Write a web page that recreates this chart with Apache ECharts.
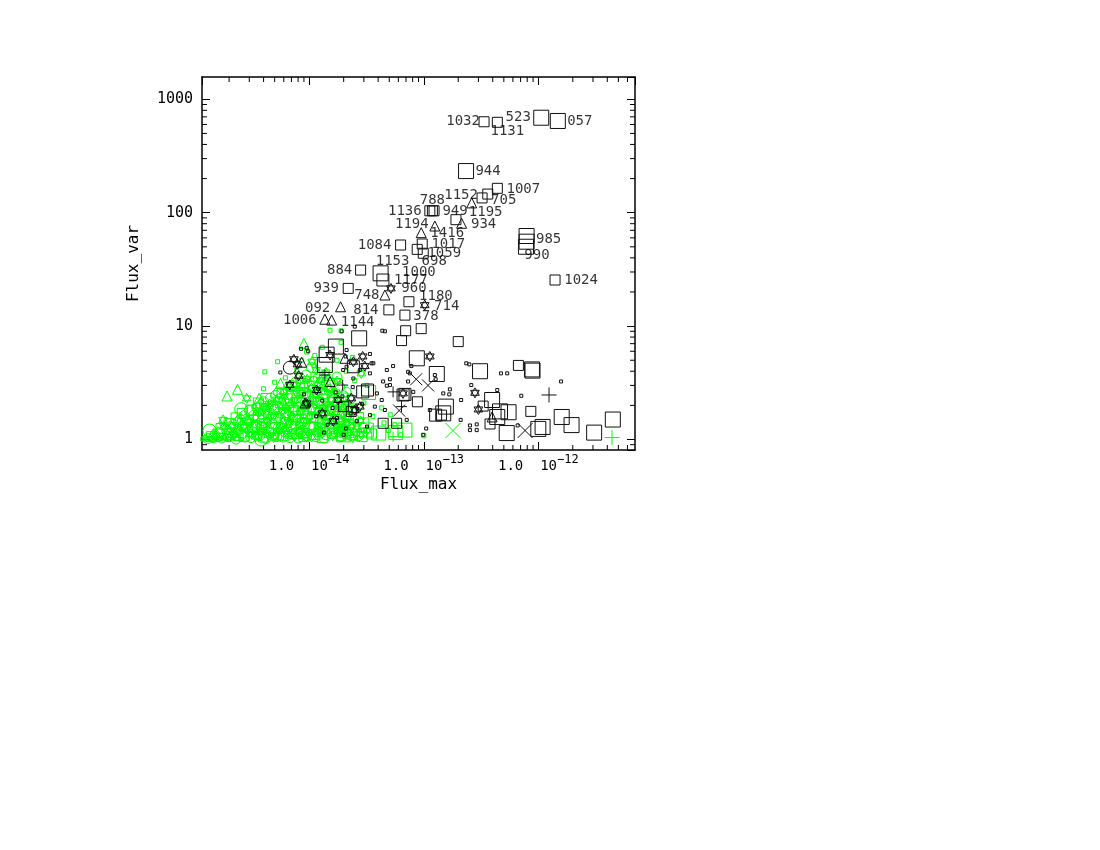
<!DOCTYPE html>
<html>
<head>
<meta charset="utf-8">
<title>Flux_var vs Flux_max</title>
<script src="https://cdn.jsdelivr.net/npm/echarts@6/dist/echarts.min.js"></script>
<style>
  html, body { margin: 0; background: #fff; }
  #chart { width: 1100px; height: 850px; }
</style>
</head>
<body>
<div id="chart"></div>
<script>
// axis ranges (log scales)
const xMin = 1.16e-15, xMax = 6.98e-12;
const yMin = 0.808, yMax = 1573;

// minor ticks (2..9 in every decade)
const xMinor = [2e-15, 3e-15, 4e-15, 5e-15, 6e-15, 7e-15, 8e-15, 9e-15,
  2e-14, 3e-14, 4e-14, 5e-14, 6e-14, 7e-14, 8e-14, 9e-14,
  2e-13, 3e-13, 4e-13, 5e-13, 6e-13, 7e-13, 8e-13, 9e-13,
  2e-12, 3e-12, 4e-12, 5e-12, 6e-12];
const yMinor = [0.9, 2, 3, 4, 5, 6, 7, 8, 9, 20, 30, 40, 50, 60, 70, 80, 90,
  200, 300, 400, 500, 600, 700, 800, 900];

// ---- black sources ----
const blackSquaresLarge = [
  [1.06e-12, 688], [1.48e-12, 644], [2.34e-13, 233], [4.2e-14, 29.2],
  [7.9e-13, 62.3], [7.9e-13, 55.5], [7.8e-13, 50.1],
  [2.73e-14, 7.8], [1.71e-14, 6.6], [1.42e-14, 5.6], [1.37e-14, 4.54],
  [8.7e-14, 5.2], [1.30e-13, 3.78], [3.10e-13, 4.0], [8.8e-13, 4.15], [8.9e-13, 4.05],
  [3.95e-13, 2.23], [4.63e-13, 1.77], [5.5e-13, 1.74], [4.38e-13, 1.58], [5.3e-13, 1.14],
  [1.09e-12, 1.29], [1.0e-12, 1.24], [1.6e-12, 1.58], [1.95e-12, 1.34], [3.07e-12, 1.15],
  [4.47e-12, 1.5], [1.56e-13, 1.95], [1.48e-13, 1.7]
];
const blackSquaresMid = [
  [4.4e-14, 25.5], [6.85e-14, 2.5], [3.23e-14, 2.73], [2.43e-14, 4.38], [2.93e-14, 2.63],
  [6.6e-14, 2.47], [1.27e-13, 1.64]
];
const blackSquaresSmall = [
  [3.36e-13, 634], [4.39e-13, 627], [4.39e-13, 164], [3.62e-13, 146], [3.23e-13, 135],
  [1.13e-13, 104], [1.19e-13, 104], [1.23e-13, 104], [1.91e-13, 86.8],
  [6.28e-14, 51.9], [9.7e-14, 53.0], [8.77e-14, 47.5], [9.9e-14, 43.9],
  [2.81e-14, 31.2], [2.19e-14, 21.5], [4.96e-14, 13.9], [7.42e-14, 16.4], [6.85e-14, 12.5],
  [1.40e-12, 25.5], [6.95e-14, 9.1], [9.5e-14, 9.5], [6.4e-14, 7.45], [8.8e-14, 2.15],
  [4.42e-14, 1.39], [5.8e-14, 1.39], [2.0e-13, 7.3], [6.7e-13, 4.5], [1.43e-13, 1.64],
  [3.79e-13, 1.37], [3.3e-13, 1.97], [8.6e-13, 1.77], [2.33e-14, 1.77], [2.0e-14, 1.95]
];
const blackTriangles = [
  [2.62e-13, 122], [2.14e-13, 80.7], [1.25e-13, 76.3], [9.5e-14, 66.7], [4.58e-14, 18.8],
  [1.88e-14, 14.8], [1.37e-14, 11.5], [1.57e-14, 11.3], [8.6e-15, 4.8], [2.05e-14, 5.2],
  [1.52e-14, 3.25], [3.95e-13, 1.58], [9.2e-15, 2.1]
];
const blackStars = [
  [5.17e-14, 21.5], [1.02e-13, 15.3], [1.13e-13, 5.4], [7.35e-15, 5.1], [7.9e-15, 4.6],
  [8.1e-15, 3.65], [6.78e-15, 3.02], [9.5e-15, 2.08], [1.16e-14, 2.73], [1.52e-14, 5.56],
  [2.43e-14, 4.85], [2.93e-14, 5.4], [3.06e-14, 4.44], [1.79e-14, 2.23], [2.5e-14, 1.82],
  [2.77e-14, 1.95], [2.33e-14, 2.31], [6.6e-14, 2.55], [2.8e-13, 2.58], [3.0e-13, 1.84],
  [1.3e-14, 1.7], [1.62e-14, 1.45]
];
const blackCircles = [[6.78e-15, 4.3]];
const blackPluses = [[1.37e-14, 3.7], [1.96e-14, 3.02], [5.4e-14, 2.63], [6.4e-14, 1.95]];
const blackPlusesLarge = [[1.24e-12, 2.47]];
const blackCrosses = [[8.6e-14, 3.4], [1.09e-13, 3.0], [6.1e-14, 1.8]];
const blackCrossesLarge = [[7.66e-13, 1.2]];
const blackDots = [
  [2.5e-14, 9.9], [4.58e-14, 9.0], [4.76e-14, 4.1], [4.42e-14, 3.25], [5.07e-14, 3.02],
  [7.57e-14, 3.83], [7.3e-14, 3.25], [3.39e-14, 3.83], [3.63e-14, 4.7], [1.98e-14, 4.1],
  [2.43e-14, 3.45], [1.05e-13, 1.25], [9.9e-14, 1.10], [4.58e-14, 1.82], [7.1e-14, 1.49],
  [8.1e-14, 2.63], [1.13e-13, 1.82], [2.5e-13, 4.6], [4.72e-13, 3.83], [5.35e-13, 3.83],
  [1.58e-12, 3.25], [2.6e-13, 3.02], [1.69e-13, 2.77], [1.48e-13, 2.55], [1.67e-13, 2.5],
  [2.12e-13, 2.23], [4.38e-13, 2.73], [7.1e-13, 2.43], [2.1e-13, 1.49], [2.9e-13, 1.36],
  [2.53e-13, 1.33], [2.9e-13, 1.21], [2.53e-13, 1.21], [6.6e-13, 1.33], [4.35e-14, 9.1],
  [1.25e-13, 3.7], [1.27e-13, 3.4], [7.3e-14, 3.95], [7.8e-14, 4.44], [4.76e-14, 2.98],
  [3.9e-14, 2.55], [4.3e-14, 2.23], [3.74e-14, 1.95], [3.39e-14, 1.64], [2.12e-14, 6.15],
  [2.08e-14, 5.4], [3.5e-14, 4.7], [3.39e-14, 5.68], [9.5e-15, 6.4], [1.92e-14, 9.0],
  [2.35e-13, 4.7], [5.4e-14, 4.44], [5.07e-14, 3.4], [2.12e-14, 4.38], [2.77e-14, 4.1],
  [1.0e-14, 2.0], [1.15e-14, 1.6], [1.3e-14, 2.2], [1.45e-14, 1.35], [1.6e-14, 1.9],
  [1.75e-14, 1.55], [1.95e-14, 2.4], [2.1e-14, 1.25], [2.3e-14, 1.7], [2.6e-14, 1.45],
  [2.9e-14, 2.05], [3.2e-14, 1.3], [9.0e-15, 2.5], [1.2e-14, 2.8], [1.7e-14, 2.6],
  [2.0e-14, 1.1], [2.4e-14, 2.9], [1.35e-14, 1.15], [8.5e-15, 6.3], [5.6e-15, 3.9], [9.8e-15, 6.0]
];

// ---- green sources ----
const greenCircles = [
  [1.30e-15, 1.02], [1.72e-15, 1.03], [2.30e-15, 1.01], [3.10e-15, 1.04], [4.20e-15, 1.02],
  [5.90e-15, 1.05], [8.00e-15, 1.03], [1.15e-14, 1.06],
  [1.50e-15, 1.10], [2.60e-15, 1.12], [3.60e-15, 1.09], [5.00e-15, 1.13], [7.10e-15, 1.11],
  [9.60e-15, 1.14], [1.40e-14, 1.10], [2.10e-14, 1.12],
  [1.90e-15, 1.22], [2.90e-15, 1.25], [4.40e-15, 1.20], [6.40e-15, 1.24], [8.80e-15, 1.21],
  [1.25e-14, 1.26], [1.80e-14, 1.23], [2.60e-14, 1.19],
  [2.20e-15, 1.36], [3.30e-15, 1.33], [4.80e-15, 1.38], [6.90e-15, 1.35], [1.02e-14, 1.32],
  [1.50e-14, 1.37], [2.30e-14, 1.34],
  [2.50e-15, 1.50], [3.90e-15, 1.47], [5.60e-15, 1.53], [7.80e-15, 1.49], [1.10e-14, 1.55],
  [1.65e-14, 1.48], [2.45e-14, 1.52],
  [4.60e-15, 1.70], [6.20e-15, 1.66], [9.00e-15, 1.72], [1.30e-14, 1.68], [1.95e-14, 1.74],
  [3.50e-15, 1.90], [5.30e-15, 1.95], [7.40e-15, 1.88], [1.05e-14, 1.93], [1.55e-14, 1.87],
  [2.20e-14, 1.96],
  [4.00e-15, 2.15], [6.00e-15, 2.20], [8.50e-15, 2.12], [1.20e-14, 2.18], [1.75e-14, 2.10],
  [5.10e-15, 2.45], [7.00e-15, 2.50], [9.80e-15, 2.40], [1.40e-14, 2.52], [2.00e-14, 2.42],
  [6.50e-15, 2.80], [9.00e-15, 2.85], [1.30e-14, 2.75], [1.85e-14, 2.90],
  [7.60e-15, 3.20], [1.10e-14, 3.25], [1.60e-14, 3.15],
  [9.40e-15, 3.70], [1.35e-14, 3.65], [1.05e-14, 4.30],
  [1.45e-15, 1.04], [1.95e-15, 1.07], [2.75e-15, 1.05], [3.7e-15, 1.08], [5.2e-15, 1.06],
  [6.8e-15, 1.04], [9.5e-15, 1.08], [1.35e-14, 1.03], [1.9e-14, 1.06], [2.7e-14, 1.08],
  [1.65e-15, 1.16], [2.1e-15, 1.15], [3.2e-15, 1.17], [4.6e-15, 1.15], [6.1e-15, 1.18],
  [8.4e-15, 1.15], [1.2e-14, 1.17], [1.7e-14, 1.16], [2.4e-14, 1.15],
  [2.05e-15, 1.29], [2.6e-15, 1.31], [3.8e-15, 1.30], [5.4e-15, 1.28], [7.6e-15, 1.31],
  [1.1e-14, 1.29], [1.6e-14, 1.30], [2.5e-14, 1.29],
  [2.4e-15, 1.43], [2.9e-15, 1.45], [4.2e-15, 1.42], [6.0e-15, 1.44], [8.6e-15, 1.42],
  [1.25e-14, 1.44], [1.85e-14, 1.43],
  [2.7e-15, 1.62], [3.3e-15, 1.64], [4.4e-15, 1.60], [6.6e-15, 1.63], [9.8e-15, 1.61],
  [1.4e-14, 1.63], [2.1e-14, 1.60],
  [3.0e-15, 1.80], [4.1e-15, 1.78], [5.0e-15, 1.82], [8.0e-15, 1.79], [1.15e-14, 1.81],
  [1.7e-14, 1.80], [2.35e-14, 1.78],
  [3.8e-15, 2.03], [4.8e-15, 2.00], [6.6e-15, 2.05], [9.3e-15, 2.01], [1.3e-14, 2.04],
  [1.9e-14, 2.00],
  [4.6e-15, 2.32], [5.6e-15, 2.30], [7.8e-15, 2.33], [1.1e-14, 2.30], [1.6e-14, 2.35],
  [2.3e-14, 2.28],
  [5.4e-15, 2.62], [8.0e-15, 2.66], [1.5e-14, 2.68], [2.1e-14, 2.62],
  [7.0e-15, 3.00], [1.0e-14, 3.05], [1.4e-14, 2.98],
  [8.4e-15, 3.45], [1.2e-14, 3.50], [1.75e-14, 3.55]
];
const greenCirclesLarge = [[2.55e-15, 1.85], [1.35e-15, 1.2], [1.7e-14, 1.2], [3.8e-15, 1.0]];
const greenStars = [
  [2.85e-15, 2.31], [1.77e-15, 1.49], [1.80e-15, 1.30], [2.1e-15, 1.3], [1.06e-14, 4.85],
  [2.85e-14, 3.83],
  [2.00e-15, 1.05], [3.40e-15, 1.06], [4.90e-15, 1.04], [7.50e-15, 1.07], [1.05e-14, 1.05],
  [1.60e-14, 1.08], [2.40e-14, 1.04],
  [2.40e-15, 1.18], [3.80e-15, 1.17], [5.40e-15, 1.19], [8.20e-15, 1.16], [1.20e-14, 1.18],
  [1.90e-14, 1.17], [3.20e-14, 1.20],
  [3.00e-15, 1.42], [4.30e-15, 1.44], [6.60e-15, 1.41], [9.50e-15, 1.45], [1.40e-14, 1.43],
  [2.10e-14, 1.40], [2.80e-14, 1.46],
  [3.70e-15, 1.76], [5.80e-15, 1.78], [8.40e-15, 1.73], [1.18e-14, 1.79], [1.70e-14, 1.75],
  [2.50e-14, 1.80],
  [4.50e-15, 2.05], [6.80e-15, 2.02], [9.90e-15, 2.08], [1.45e-14, 2.04], [2.15e-14, 2.07],
  [6.00e-15, 2.62], [8.60e-15, 2.58], [1.20e-14, 2.65], [1.70e-14, 2.60],
  [8.30e-15, 3.30], [1.25e-14, 3.35], [1.75e-14, 3.28], [1.15e-14, 4.10],
  [1.55e-15, 1.08], [2.2e-15, 1.10], [3.0e-15, 1.12], [4.4e-15, 1.10], [6.4e-15, 1.12],
  [9.0e-15, 1.09], [1.3e-14, 1.13], [2.0e-14, 1.10], [2.8e-14, 1.12],
  [2.7e-15, 1.30], [4.0e-15, 1.34], [5.8e-15, 1.31], [8.3e-15, 1.34], [1.2e-14, 1.30],
  [1.8e-14, 1.33], [2.6e-14, 1.30],
  [3.4e-15, 1.55], [4.9e-15, 1.60], [7.0e-15, 1.57], [1.0e-14, 1.60], [1.5e-14, 1.56],
  [2.2e-14, 1.58],
  [4.0e-15, 1.92], [6.3e-15, 1.90], [9.2e-15, 1.95], [1.35e-14, 1.90], [2.0e-14, 1.93],
  [5.2e-15, 2.25], [7.5e-15, 2.22], [1.08e-14, 2.26], [1.55e-14, 2.24],
  [7.2e-15, 2.80], [1.05e-14, 2.85], [1.5e-14, 2.80],
  [9.6e-15, 3.40], [1.4e-14, 3.90]
];
const greenSquares = [
  [1.40e-15, 1.06], [2.70e-15, 1.07], [4.00e-15, 1.05], [6.00e-15, 1.08], [9.00e-15, 1.06],
  [1.30e-14, 1.04], [1.90e-14, 1.09], [2.90e-14, 1.06],
  [1.70e-15, 1.25], [3.20e-15, 1.28], [4.70e-15, 1.26], [7.00e-15, 1.29], [1.00e-14, 1.27],
  [1.50e-14, 1.24], [2.20e-14, 1.28],
  [2.30e-15, 1.55], [3.60e-15, 1.58], [5.20e-15, 1.56], [7.60e-15, 1.60], [1.15e-14, 1.57],
  [1.80e-14, 1.59], [2.70e-14, 1.56],
  [3.10e-15, 1.82], [4.90e-15, 1.84], [7.20e-15, 1.80], [1.10e-14, 1.85], [1.60e-14, 1.82],
  [2.40e-14, 1.86],
  [4.20e-15, 2.30], [6.40e-15, 2.28], [9.20e-15, 2.33], [1.35e-14, 2.27], [1.95e-14, 2.32],
  [7.00e-15, 2.95], [1.00e-14, 2.92], [1.50e-14, 3.00],
  [1.6e-15, 1.12], [2.4e-15, 1.09], [3.5e-15, 1.14], [5.4e-15, 1.10], [7.8e-15, 1.13],
  [1.1e-14, 1.11], [1.6e-14, 1.14], [2.4e-14, 1.10], [3.5e-14, 1.12],
  [2.0e-15, 1.38], [2.8e-15, 1.40], [4.1e-15, 1.37], [6.2e-15, 1.41], [9.0e-15, 1.38],
  [1.3e-14, 1.41], [2.0e-14, 1.37], [3.0e-14, 1.40],
  [2.6e-15, 1.70], [4.0e-15, 1.68], [6.0e-15, 1.72], [8.7e-15, 1.69], [1.25e-14, 1.72],
  [1.85e-14, 1.68],
  [3.6e-15, 2.10], [5.6e-15, 2.12], [8.2e-15, 2.10], [1.2e-14, 2.12], [1.8e-14, 2.15],
  [5.8e-15, 2.55], [8.8e-15, 2.60], [1.3e-14, 2.55],
  [8.8e-15, 3.10], [1.3e-14, 3.15]
];
const greenSquaresLarge = [
  [3.16e-14, 1.21], [4.05e-14, 1.14], [6.85e-14, 1.21], [3.3e-14, 2.6], [5.7e-14, 1.15],
  [2.0e-14, 1.1]
];
const greenTriangles = [
  [9.0e-15, 7.05], [2.37e-15, 2.77], [1.92e-15, 2.42], [3.66e-15, 2.31], [5.62e-15, 3.12],
  [4.40e-15, 1.85], [6.00e-15, 2.10], [7.20e-15, 1.60], [1.05e-14, 2.40], [1.40e-14, 1.80],
  [1.90e-14, 1.50], [2.50e-15, 1.50], [3.30e-15, 1.30], [2.20e-14, 1.20], [1.20e-14, 3.20],
  [2.1e-15, 1.15]
];
const greenDots = [
  [1.18e-15, 1.01], [1.24e-15, 1.03], [1.30e-15, 1.00], [1.36e-15, 1.02], [1.44e-15, 1.01],
  [1.52e-15, 1.03], [1.60e-15, 1.00], [1.68e-15, 1.02], [1.78e-15, 1.04], [1.88e-15, 1.01],
  [2.00e-15, 1.00], [2.15e-15, 1.03], [2.35e-15, 1.02], [2.55e-15, 1.00],
  [1.52e-14, 9.2], [1.30e-14, 6.5], [1.12e-14, 5.5], [9.5e-15, 5.9], [2.1e-14, 4.0],
  [7.8e-15, 4.1], [6.2e-15, 3.5], [5.0e-15, 3.2], [2.5e-14, 3.3], [3.2e-14, 3.0],
  [1.75e-14, 5.0], [2.4e-14, 5.3], [3.0e-14, 2.1], [3.6e-14, 1.6], [4.5e-14, 1.4],
  [4.9e-14, 1.2], [5.6e-14, 1.35], [6.3e-14, 1.1], [4.0e-15, 2.8], [3.3e-15, 1.95],
  [1.9e-14, 7.2], [8.6e-15, 5.0], [4.3e-14, 1.9], [5.1e-14, 1.65], [1.0e-13, 1.08],
  [1.9e-14, 9.1], [4.1e-15, 3.95], [5.3e-15, 4.85]
];
const greenPluses = [[5.4e-14, 1.06], [3.0e-14, 1.15], [2.0e-14, 1.3]];
const greenPlusesLarge = [[4.4e-12, 1.04]];
const greenCrossesLarge = [[1.8e-13, 1.2]];

// ---- source names next to their marks ----
const labelled = [
  [3.36e-13, 634, '1032'], [4.39e-13, 627, '1131'], [1.06e-12, 688, '523'], [1.48e-12, 644, '057'],
  [2.34e-13, 233, '944'], [4.39e-13, 164, '1007'], [3.62e-13, 146, '705'], [3.23e-13, 135, '1152'],
  [2.62e-13, 122, '1195'], [1.19e-13, 104, '788'], [1.13e-13, 104, '1136'], [1.23e-13, 104, '949'],
  [1.25e-13, 76.3, '1194'], [2.14e-13, 80.7, '934'], [9.5e-14, 66.7, '1416'], [6.28e-14, 51.9, '1084'],
  [9.7e-14, 53.0, '1017'], [9.9e-14, 43.9, '1059'], [8.77e-14, 47.5, '698'], [7.9e-13, 62.3, '985'],
  [7.8e-13, 50.1, '990'], [2.81e-14, 31.2, '884'], [4.2e-14, 29.2, '1153'], [4.4e-14, 25.5, '1000'],
  [4.4e-14, 25.5, '1177'], [5.17e-14, 21.5, '960'], [4.58e-14, 18.8, '748'], [2.19e-14, 21.5, '939'],
  [7.42e-14, 16.4, '1180'], [1.02e-13, 15.3, '714'], [1.88e-14, 14.8, '092'], [4.96e-14, 13.9, '814'],
  [6.85e-14, 12.5, '378'], [1.37e-14, 11.5, '1006'], [1.57e-14, 11.3, '1144'], [1.40e-12, 25.5, '1024']
];
// label shift from its mark, in pixels
const labelShift = {
  '1032': [-21, 0], '1131': [10, 9], '523': [-23, 0], '057': [22, 0], '944': [22, 0],
  '1007': [26, 1], '705': [16, 6], '1152': [-21, -3], '1195': [14, 9], '788': [0, -10],
  '1136': [-25, 1], '949': [21, 1], '1194': [-23, -2], '934': [22, 1], '1416': [26, 1],
  '1084': [-26, 0], '1017': [26, 0], '1059': [21, 0], '698': [17, 12], '985': [22, 3],
  '990': [11, 9], '884': [-21, 0], '1153': [12, -12], '1000': [36, -8], '1177': [28, 0],
  '960': [23, 0], '748': [-18, 0], '939': [-22, 0], '1180': [27, -5], '714': [22, 1],
  '092': [-23, 2], '814': [-23, 0], '378': [21, 1], '1006': [-25, 1], '1144': [26, 2],
  '1024': [26, 0]
};

const mono = 'DejaVu Sans Mono';
const BLACK = '#111';
const GREEN = '#00ff00';
const starPath = 'path://M10,0L18.66,15L1.34,15ZM10,20L18.66,5L1.34,5Z';
const plusPath = 'path://M10,0L10,20M0,10L20,10';
const crossPath = 'path://M0,0L20,20M0,20L20,0';

function marks(data, symbol, size, color) {
  return {
    type: 'scatter',
    data: data,
    symbol: symbol,
    symbolSize: size,
    symbolKeepAspect: true,
    silent: true,
    itemStyle: { color: 'rgba(0,0,0,0)', borderColor: color, borderWidth: 1, opacity: 1 }
  };
}

function minorX(params, api) {
  const p = api.coord([api.value(0), yMin]);
  const cs = params.coordSys;
  return {
    type: 'group',
    children: [
      { type: 'line', shape: { x1: p[0], y1: cs.y + cs.height, x2: p[0], y2: cs.y + cs.height - 5 }, style: { stroke: '#000', lineWidth: 1 } },
      { type: 'line', shape: { x1: p[0], y1: cs.y, x2: p[0], y2: cs.y + 5 }, style: { stroke: '#000', lineWidth: 1 } }
    ]
  };
}
function minorY(params, api) {
  const p = api.coord([xMin, api.value(1)]);
  const cs = params.coordSys;
  return {
    type: 'group',
    children: [
      { type: 'line', shape: { x1: cs.x, y1: p[1], x2: cs.x + 5, y2: p[1] }, style: { stroke: '#000', lineWidth: 1 } },
      { type: 'line', shape: { x1: cs.x + cs.width, y1: p[1], x2: cs.x + cs.width - 5, y2: p[1] }, style: { stroke: '#000', lineWidth: 1 } }
    ]
  };
}

function isDecade(v) {
  const l = Math.log10(v);
  return Math.abs(l - Math.round(l)) < 0.01;
}

const axisLineStyle = { lineStyle: { color: '#000', width: 1.5 } };
const tickStyle = { show: true, inside: true, length: 8, lineStyle: { color: '#000', width: 1 } };

const chart = echarts.init(document.getElementById('chart'));
const option = {
  animation: false,
  backgroundColor: '#fff',
  grid: { left: 202, right: 465, top: 77, bottom: 400 },
  xAxis: [
    {
      type: 'log', min: xMin, max: xMax, position: 'bottom',
      axisLine: axisLineStyle, axisTick: tickStyle, splitLine: { show: false },
      axisLabel: {
        showMinLabel: false, showMaxLabel: false, margin: 4,
        formatter: v => isDecade(v) ? '{b|1.0  10}{sup|−' + (-Math.round(Math.log10(v))) + '}' : '',
        rich: {
          b: { fontFamily: mono, fontSize: 14, color: '#000', lineHeight: 24 },
          sup: { fontFamily: mono, fontSize: 12, color: '#000', verticalAlign: 'top' }
        }
      },
      name: 'Flux_max', nameLocation: 'middle', nameGap: 27,
      nameTextStyle: { fontFamily: mono, fontSize: 16, color: '#000' }
    },
    {
      type: 'log', min: xMin, max: xMax, position: 'top',
      axisLine: axisLineStyle, axisTick: tickStyle, axisLabel: { show: false }, splitLine: { show: false }
    }
  ],
  yAxis: [
    {
      type: 'log', min: yMin, max: yMax, position: 'left',
      axisLine: axisLineStyle, axisTick: tickStyle, splitLine: { show: false },
      axisLabel: {
        showMinLabel: false, showMaxLabel: false, margin: 9,
        fontFamily: mono, fontSize: 15, color: '#000',
        formatter: v => isDecade(v) ? String(Math.round(v)) : ''
      },
      name: 'Flux_var', nameLocation: 'middle', nameGap: 60,
      nameTextStyle: { fontFamily: mono, fontSize: 16, color: '#000' }
    },
    {
      type: 'log', min: yMin, max: yMax, position: 'right',
      axisLine: axisLineStyle, axisTick: tickStyle, axisLabel: { show: false }, splitLine: { show: false }
    }
  ],
  series: [
    { type: 'custom', data: xMinor.map(v => [v, yMin]), renderItem: minorX, silent: true, clip: false },
    { type: 'custom', data: yMinor.map(v => [xMin, v]), renderItem: minorY, silent: true, clip: false },

    marks(greenDots, 'rect', 4, GREEN),
    marks(greenCircles, 'circle', 10, GREEN),
    marks(greenCirclesLarge, 'circle', 13, GREEN),
    marks(greenStars, starPath, 10, GREEN),
    marks(greenSquares, 'rect', 10, GREEN),
    marks(greenSquaresLarge, 'rect', 14, GREEN),
    marks(greenTriangles, 'triangle', 10, GREEN),
    marks(greenPluses, plusPath, 10, GREEN),
    marks(greenPlusesLarge, plusPath, 15, GREEN),
    marks(greenCrossesLarge, crossPath, 15, GREEN),

    marks(blackDots, 'rect', 3, BLACK),
    marks(blackSquaresSmall, 'rect', 10, BLACK),
    marks(blackSquaresMid, 'rect', 12, BLACK),
    marks(blackSquaresLarge, 'rect', 15, BLACK),
    marks(blackTriangles, 'triangle', 10, BLACK),
    marks(blackStars, starPath, 10, BLACK),
    marks(blackCircles, 'circle', 13, BLACK),
    marks(blackPluses, plusPath, 11, BLACK),
    marks(blackPlusesLarge, plusPath, 15, BLACK),
    marks(blackCrosses, crossPath, 12, BLACK),
    marks(blackCrossesLarge, crossPath, 15, BLACK),

    {
      type: 'scatter',
      silent: true,
      symbol: 'circle',
      symbolSize: 1,
      itemStyle: { color: 'rgba(0,0,0,0)' },
      data: labelled.map(d => ({
        value: [d[0], d[1]],
        name: d[2],
        label: { offset: labelShift[d[2]] }
      })),
      label: {
        show: true, position: 'inside', formatter: '{b}',
        fontFamily: mono, fontSize: 14, color: '#000'
      }
    }
  ]
};
chart.setOption(option);
</script>
</body>
</html>
